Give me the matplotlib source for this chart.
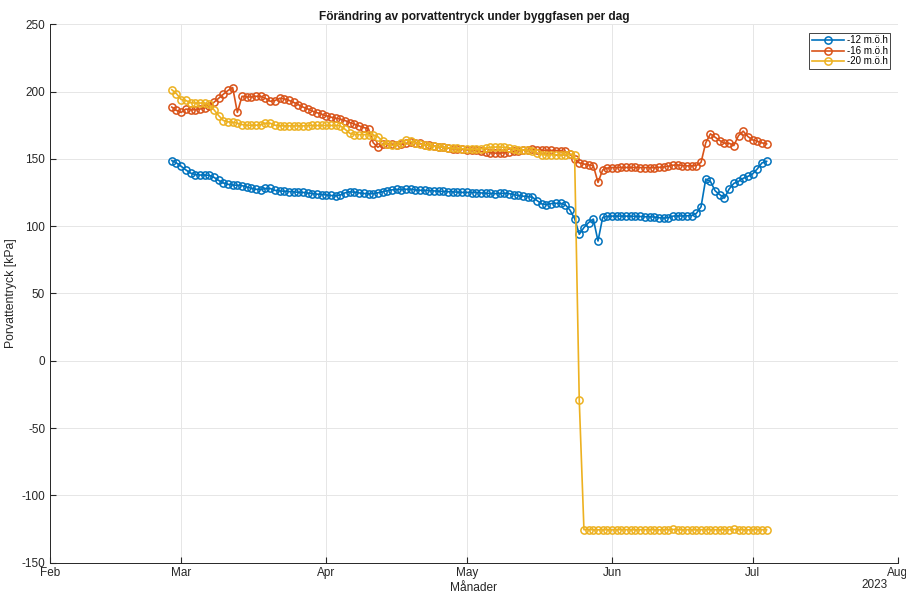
import matplotlib
matplotlib.use("Agg")
import matplotlib.pyplot as plt
import matplotlib.dates as mdates
import numpy as np

plt.rcParams['font.family'] = ['Liberation Sans', 'DejaVu Sans']
plt.rcParams['axes.unicode_minus'] = False

# daily readings, 27 Feb - 4 Jul 2023
start_date = '2023-02-27'

p12 = [148.7, 147.0, 144.5, 141.8, 139.5, 138.3, 138.0, 138.0, 137.8, 136.3,
       134.0, 132.1, 131.1, 130.6, 130.4, 130.1, 129.1, 128.1, 127.4, 127.2,
       128.0, 128.0, 126.6, 126.2, 126.0, 125.7, 125.5, 125.2, 125.1, 124.6,
       124.2, 123.8, 123.5, 123.2, 122.8, 122.5, 123.2, 124.8, 125.5, 125.3,
       124.7, 124.3, 124.0, 124.2, 124.8, 125.6, 126.4, 127.0, 127.3, 127.2,
       127.4, 127.5, 126.9, 126.7, 126.6, 126.4, 126.2, 126.0, 125.8, 125.6,
       125.5, 125.3, 125.1, 125.1, 125.0, 125.0, 124.7, 124.5, 124.3, 124.2,
       124.3, 124.5, 124.2, 123.5, 122.8, 122.3, 122.0, 121.5, 119.0, 116.5,
       116.0, 116.8, 117.0, 117.0, 116.0, 112.0, 105.7, 94.0, 99.0,
       102.7, 105.3, 89.0, 106.5, 107.3, 107.5, 107.5, 107.5, 107.5, 107.4,
       107.3, 107.2, 107.0, 107.0, 106.8, 106.3, 106.0, 106.3, 107.5, 107.6,
       107.6, 107.7, 107.8, 109.5, 114.4, 135.0, 133.3, 126.3, 123.4, 120.9,
       127.6, 131.8, 133.3, 135.6, 137.0, 138.8, 142.5, 147.0, 148.2]

p16 = [188.5, 186.0, 184.5, 187.0, 186.5, 186.5, 187.0, 187.7, 189.5, 192.0,
       195.0, 198.0, 200.8, 203.0, 184.5, 196.5, 196.0, 196.0, 196.5, 196.5,
       195.0, 192.8, 193.3, 195.0, 194.6, 193.5, 192.0, 190.3, 188.5, 187.2,
       185.5, 184.3, 183.2, 182.0, 181.0, 180.2, 179.5, 178.5, 177.0, 175.8,
       174.5, 173.3, 172.3, 162.0, 158.6, 161.0, 161.0, 161.0, 160.5, 161.0,
       161.5, 162.5, 162.0, 161.5, 160.5, 160.0, 159.5, 159.0, 158.5, 158.0,
       157.6, 157.3, 157.0, 156.7, 156.5, 156.3, 155.5, 155.0, 154.6, 154.3,
       154.3, 154.5, 155.0, 155.5, 156.2, 156.5, 156.7, 157.0, 156.8, 156.5,
       156.3, 156.3, 156.2, 156.0, 155.5, 153.5, 150.0, 147.0, 146.2,
       145.5, 145.0, 132.5, 141.8, 143.2, 143.5, 143.5, 143.6, 143.6, 143.6,
       143.6, 143.5, 143.5, 143.5, 143.4, 143.7, 144.0, 144.5, 145.3, 145.5,
       145.0, 144.8, 144.8, 145.0, 147.4, 161.9, 168.6, 166.1, 163.6, 161.6,
       161.6, 159.9, 167.3, 170.6, 166.6, 164.1, 163.1, 161.9, 161.1]

p20 = [201.4, 198.4, 194.1, 193.4, 191.7, 191.5, 191.5, 191.5, 190.5, 186.5,
       182.2, 178.5, 177.5, 177.2, 176.5, 175.5, 175.0, 175.0, 175.0, 175.3,
       176.5, 176.5, 175.0, 174.6, 174.5, 174.5, 174.5, 174.5, 174.5, 174.7,
       174.8, 174.8, 174.8, 174.8, 174.8, 174.8, 174.5, 172.0, 169.0, 168.1,
       168.0, 168.0, 168.0, 167.8, 166.5, 163.0, 161.0, 160.0, 160.4, 161.5,
       164.0, 163.0, 162.0, 161.0, 160.5, 159.8, 159.3, 159.0, 158.6, 158.2,
       158.0, 157.8, 157.5, 157.3, 157.0, 157.0, 157.5, 158.0, 158.6, 158.8,
       158.8, 158.6, 158.3, 157.5, 156.8, 156.5, 156.5, 156.2, 154.5, 153.2,
       152.8, 153.0, 153.0, 153.0, 153.2, 153.5, 153.2, -29.5, -125.5,
       -125.4, -125.5, -125.6, -125.5, -125.5, -125.6, -125.5, -125.4, -125.5, -125.5,
       -125.6, -125.5, -125.5, -125.4, -125.5, -125.6, -125.5, -125.5, -125.3, -125.5,
       -125.6, -125.5, -125.5, -125.6, -125.5, -125.4, -125.5, -125.5, -125.6, -125.5,
       -125.5, -125.3, -125.5, -125.5, -125.6, -125.5, -125.4, -125.5, -125.5]

labels = ['-12 m.ö.h', '-16 m.ö.h', '-20 m.ö.h']
colors = ['#0072BD', '#D95319', '#EDB120']

dates = np.datetime64(start_date) + np.arange(len(p12))

fig = plt.figure(figsize=(9.06, 5.92), dpi=100)
ax = fig.add_axes([0.0552, 0.0495, 0.9357, 0.9095])

for vals, lab, c in zip([p12, p16, p20], labels, colors):
    ax.plot(dates, vals, '-o', color=c, label=lab, linewidth=1.2,
            markersize=5.2, markerfacecolor='none', markeredgewidth=1.1)

ax.set_xlim(np.datetime64('2023-02-01'), np.datetime64('2023-08-01'))
ax.set_ylim(-150, 250)
ax.set_yticks(np.arange(-150, 251, 50))
ax.xaxis.set_major_locator(mdates.MonthLocator())
ax.xaxis.set_major_formatter(mdates.DateFormatter('%b'))

ax.grid(True, color='#e6e6e6', linewidth=0.7)
ax.set_axisbelow(True)
ax.tick_params(direction='in', length=4, labelsize=8.5, color='#262626',
               labelcolor='#262626')
ax.tick_params(axis='x', pad=3)
ax.spines['top'].set_visible(False)
ax.spines['right'].set_visible(False)
for s in ['left', 'bottom']:
    ax.spines[s].set_color('#262626')
    ax.spines[s].set_linewidth(0.7)

ax.set_title('Förändring av porvattentryck under byggfasen per dag',
             fontsize=8.6, fontweight='bold', color='#1a1a1a', pad=3)
ax.set_xlabel('Månader', fontsize=8.6, color='#262626')
ax.xaxis.set_label_coords(0.5, -0.036)
ax.set_ylabel('Porvattentryck [kPa]', fontsize=8.8, color='#262626')
ax.yaxis.set_label_coords(-0.039, 0.5)
fig.text(888 / 906, 1 - 585 / 592, '2023', ha='right', va='center',
         fontsize=8.5, color='#262626')

leg = ax.legend(loc='upper right', bbox_to_anchor=(890 / 906, 1 - 33 / 592),
                bbox_transform=fig.transFigure, borderaxespad=0,
                fontsize=7, frameon=True, fancybox=False,
                edgecolor='#262626', framealpha=1, borderpad=0.25,
                handlelength=3.3, labelspacing=0.05, handletextpad=0.3)
leg.get_frame().set_linewidth(0.6)

fig.savefig('out.png', dpi=100)
